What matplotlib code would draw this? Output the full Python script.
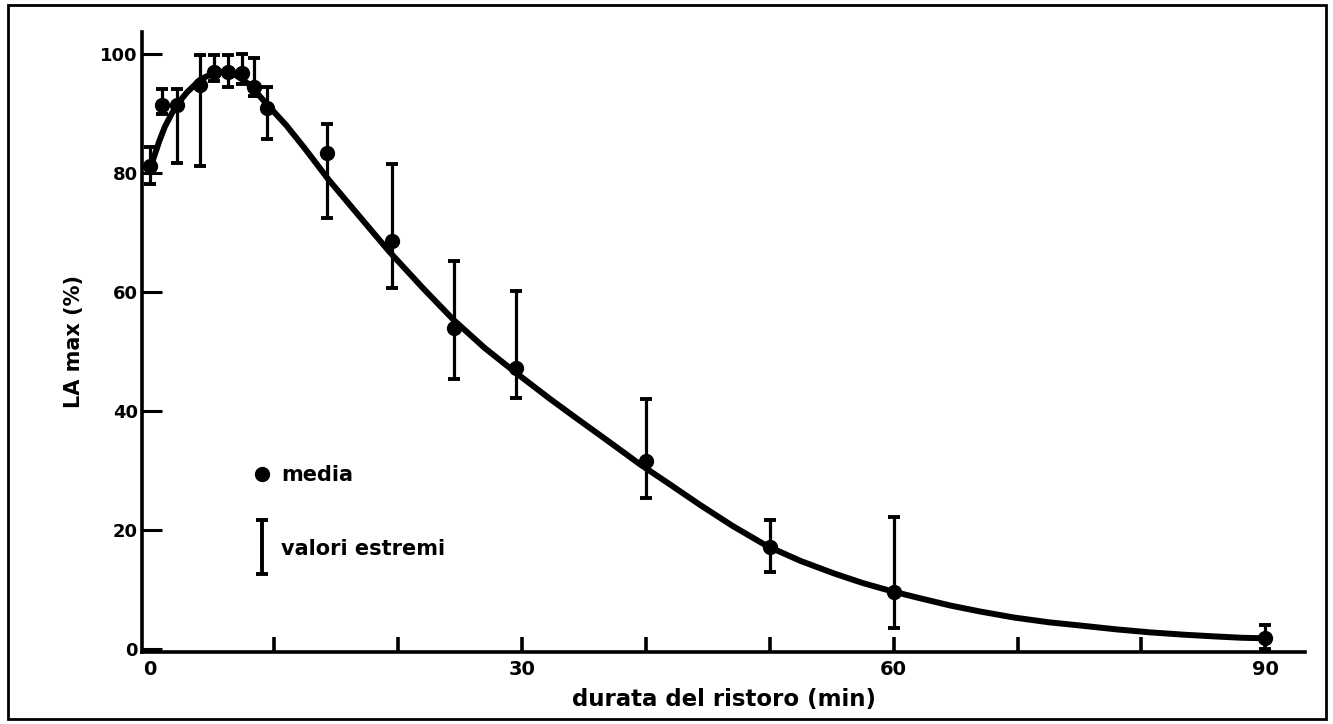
import matplotlib
matplotlib.use("Agg")
import matplotlib.pyplot as plt
from matplotlib.lines import Line2D
from matplotlib.path import Path
from matplotlib.patches import Rectangle

# ---- data ----
time_min = [0, 0.95, 2.2, 4.0, 5.2, 6.3, 7.4, 8.4, 9.4, 14.3, 19.5, 24.5, 29.5, 40, 50, 60, 90]
mean_pct = [81.1, 91.4, 91.4, 94.8, 97.0, 97.0, 96.8, 94.5, 90.9, 83.4, 68.5, 53.9, 47.2, 31.6, 17.2, 9.6, 1.8]
low_pct = [78.2, 90.0, 81.6, 81.1, 95.5, 94.4, 95.0, 93.0, 85.7, 72.4, 60.6, 45.3, 42.2, 25.3, 13.0, 3.5, 0.0]
high_pct = [84.4, 94.2, 94.2, 99.8, 99.8, 99.8, 100.0, 99.3, 94.4, 88.2, 81.5, 65.2, 60.1, 42.0, 21.7, 22.2, 4.0]

curve_t = [0, 0.35, 0.75, 1.2, 1.75, 2.4, 3.0, 4.05, 5.0, 5.8, 6.8, 8.0, 9.5, 11.0, 12.5, 14.4, 16.5,
           19.3, 22.0, 24.5, 27.0, 29.6, 32.3, 34.4, 37.0, 39.5, 42.0, 44.4, 47.0, 49.8, 52.5,
           55.2, 57.5, 59.7, 62.0, 64.6, 67.0, 69.7, 72.5, 75.3, 78.0, 80.7, 83.5, 86.1, 88.0, 90]
curve_v = [80.8, 82.9, 85.4, 87.8, 90.0, 92.1, 93.6, 95.7, 96.7, 97.0, 96.6, 94.9, 91.4, 88.0, 84.1, 78.9, 73.7,
           66.8, 60.7, 55.3, 50.6, 46.3, 42.0, 38.8, 34.9, 31.1, 27.6, 24.2, 20.7, 17.3, 14.8,
           12.7, 11.1, 9.8, 8.6, 7.3, 6.3, 5.3, 4.5, 3.9, 3.3, 2.8, 2.4, 2.1, 1.9, 1.8]

x_major = [0, 30, 60, 90]
x_minor = [10, 20, 30, 40, 50, 60, 70, 80, 90]
y_major = [0, 20, 40, 60, 80, 100]

xlabel = "durata del ristoro (min)"
ylabel = "LA max (%)"
legend_labels = ["media", "valori estremi"]

# ---- figure ----
W, H = 1333, 724
fig = plt.figure(figsize=(W / 100, H / 100), dpi=100)
ax = fig.add_axes([142 / W, (H - 652) / H, (1305 - 142) / W, (652 - 32) / H])

ax.plot(curve_t, curve_v, color="black", lw=4.3, solid_capstyle="round",
        solid_joinstyle="round", zorder=3)

yerr = [[m - l for m, l in zip(mean_pct, low_pct)], [h - m for h, m in zip(high_pct, mean_pct)]]
ax.errorbar(time_min, mean_pct, yerr=yerr, fmt="o", color="black", ms=10,
            elinewidth=2.3, capsize=4.5, capthick=2.8, zorder=4)

ax.set_xlim(-0.65, 93.2)
ax.set_ylim(-0.5, 103.7)

for s in ["top", "right"]:
    ax.spines[s].set_visible(False)
for s in ["left", "bottom"]:
    ax.spines[s].set_linewidth(2.6)

ax.set_xticks(x_major)
ax.set_xticklabels([str(v) for v in x_major], fontsize=14, fontweight="bold")
ax.xaxis.remove_overlapping_locs = False
ax.set_xticks(x_minor, minor=True)
ax.tick_params(axis="x", which="major", length=0, pad=6)
ax.tick_params(axis="x", which="minor", direction="in", length=11, width=2.6)

ax.set_yticks(y_major)
ax.set_yticklabels([str(v) for v in y_major], fontsize=13, fontweight="bold")
ax.tick_params(axis="y", which="major", direction="in", length=14.5, width=2.2, pad=3)

ax.set_xlabel(xlabel, fontsize=16.5, fontweight="bold", labelpad=6.5)
ax.set_ylabel(ylabel, fontsize=15, fontweight="bold", labelpad=12)

# legend
ibar = Path([(-0.12, 0.5), (0.12, 0.5), (0, 0.5), (0, -0.5), (-0.12, -0.5), (0.12, -0.5)],
            [Path.MOVETO, Path.LINETO, Path.MOVETO, Path.LINETO, Path.MOVETO, Path.LINETO])
h1 = Line2D([], [], marker="o", ls="none", color="black", ms=10)
h2 = Line2D([], [], marker=ibar, ls="none", color="black", ms=39, mew=2.8)
leg = ax.legend([h1, h2], legend_labels, loc="upper left", bbox_to_anchor=(0.094, 0.301),
                frameon=False, prop={"weight": "bold", "size": 15},
                handlelength=1.0, handletextpad=0.42, labelspacing=2.55,
                borderpad=0, borderaxespad=0)

# outer frame
fig.add_artist(Rectangle((8 / W, (H - 719) / H), (1326 - 8) / W, (719 - 5) / H,
                         transform=fig.transFigure, fill=False, lw=2, color="black"))

fig.savefig("out.png", dpi=100)
